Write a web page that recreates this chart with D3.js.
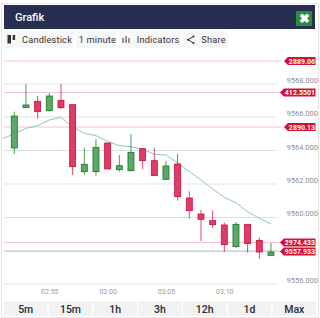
<!DOCTYPE html>
<html>
<head>
<meta charset="utf-8">
<script src="https://cdn.jsdelivr.net/npm/d3@7"></script>
<style>
  html, body { margin: 0; padding: 0; background: #fff; }
  svg { display: block; font-family: Roboto, "Liberation Sans", sans-serif; }
</style>
</head>
<body>
<div id="chart"></div>
<script>
// candle data (minutes after 02:00)
var minutes = [52, 53, 54, 55, 56, 57, 58, 59, 60, 61, 62, 63, 64, 65, 66, 67, 68, 69, 70, 71, 72, 73, 74];
var opens = [9564.16, 9566.58, 9566.96, 9566.40, 9567.02, 9566.76, 9562.74, 9562.74, 9564.46, 9562.86, 9562.80, 9564.12, 9563.40, 9562.28, 9563.20, 9561.16, 9560.20, 9559.80, 9559.54, 9558.24, 9559.58, 9558.62, 9557.72];
var closes = [9566.08, 9566.74, 9566.34, 9567.28, 9566.58, 9563.04, 9563.18, 9564.20, 9562.90, 9563.10, 9563.90, 9563.40, 9562.50, 9563.08, 9561.24, 9560.40, 9559.88, 9559.56, 9558.36, 9559.58, 9558.42, 9557.92, 9557.92];
var highs = [9566.34, 9568.00, 9567.30, 9567.46, 9568.00, 9566.76, 9564.18, 9564.68, 9564.46, 9563.74, 9565.00, 9564.12, 9564.18, 9563.38, 9563.82, 9561.56, 9560.44, 9560.42, 9559.70, 9559.72, 9559.58, 9558.78, 9558.46];
var lows = [9563.80, 9566.58, 9565.92, 9566.34, 9566.50, 9562.54, 9562.54, 9562.50, 9562.90, 9562.74, 9562.76, 9562.90, 9562.50, 9562.28, 9561.00, 9559.92, 9558.58, 9559.38, 9557.92, 9558.18, 9557.88, 9557.52, 9557.70];

// moving average line
var maMinutes = [51, 52, 53, 54, 55, 56, 57, 58, 59, 60, 61, 62, 63, 64, 65, 66, 67, 68, 69, 70, 71, 72, 73, 74];
var maValues = [9564.73, 9565.00, 9565.34, 9565.50, 9565.84, 9566.00, 9565.44, 9565.04, 9564.90, 9564.56, 9564.30, 9564.24, 9564.08, 9563.78, 9563.74, 9563.26, 9562.75, 9562.24, 9561.70, 9561.20, 9560.88, 9560.34, 9559.94, 9559.60];

// horizontal price lines
var priceLevels = [9569.38, 9567.49, 9565.42, 9558.49, 9557.95];
var priceLabels = ["2889.06", "412.5501", "2890.13", "2974.433", "9557.933"];

var yTicks = [9556, 9558, 9560, 9562, 9564, 9566, 9568];
var yLabelTicks = [9556, 9560, 9562, 9564, 9566, 9568]; // 9558 sits behind the price tags
var softTicks = [9556, 9562, 9566, 9568];
var xTicks = [55, 60, 65, 70];
var xTickLabels = ["02:55", "03:00", "03:05", "03:10"];

var toolbarLabels = ["Candlestick", "1 minute", "Indicators", "Share"];
var rangeLabels = ["5m", "15m", "1h", "3h", "12h", "1d", "Max"];

var w = 320, h = 318;
var upColor = "#0d7a23", downColor = "#cc0f3d";

var x = d3.scaleLinear().domain([52, 70]).range([14.3, 224.3]);
var y = d3.scaleLinear().domain([9556, 9568]).range([284, 84]);

var svg = d3.select("#chart").append("svg")
    .attr("width", w)
    .attr("height", h);

// outer panel
svg.append("rect")
    .attr("x", 1.5).attr("y", 3.5)
    .attr("width", 317).attr("height", 314)
    .attr("fill", "#fff")
    .attr("stroke", "#e6e6e6");

// title bar
svg.append("rect")
    .attr("x", 4).attr("y", 5)
    .attr("width", 311).attr("height", 24)
    .attr("fill", "#262e52");
svg.append("text")
    .attr("x", 15).attr("y", 21)
    .attr("fill", "#fff")
    .attr("font-size", 11)
    .attr("font-weight", 500)
    .text("Grafik");
svg.append("rect")
    .attr("x", 296).attr("y", 11)
    .attr("width", 16).attr("height", 15)
    .attr("rx", 1)
    .attr("fill", "#2d8a3e");
svg.append("text")
    .attr("x", 304).attr("y", 22.5)
    .attr("text-anchor", "middle")
    .attr("fill", "#fff")
    .attr("font-size", 13)
    .attr("font-weight", 700)
    .text("\u2716");

// toolbar buttons
var toolbarX = [4, 75.5, 119, 182.5];
var toolbarW = [70, 41.5, 62, 45.5];
var toolbarText = [22, 78.7, 136.7, 201.3];
var toolbar = svg.append("g");
toolbarLabels.forEach(function (d, i) {
    toolbar.append("rect")
        .attr("x", toolbarX[i]).attr("y", 31)
        .attr("width", toolbarW[i]).attr("height", 17)
        .attr("fill", "#f7f7f7");
    toolbar.append("text")
        .attr("x", toolbarText[i]).attr("y", 42.5)
        .attr("fill", "#333")
        .attr("font-size", 9.2)
        .attr("letter-spacing", 0.2)
        .text(d);
});
// small toolbar icons
toolbar.append("rect").attr("x", 7.5).attr("y", 35).attr("width", 3.5).attr("height", 8.5).attr("fill", "#333");
toolbar.append("rect").attr("x", 12.7).attr("y", 35).attr("width", 2.4).attr("height", 5).attr("fill", "#333");
toolbar.append("path").attr("d", "M123 43v-5M126 43v-7M129 43v-5").attr("stroke", "#777").attr("stroke-width", 1.5);
toolbar.append("path").attr("d", "M193.5 36.5L188 39.7L193.5 43").attr("fill", "none").attr("stroke", "#333").attr("stroke-width", 1);
toolbar.selectAll("circle")
    .data([[193.5, 36.5], [188, 39.7], [193.5, 43]])
    .enter()
    .append("circle")
    .attr("cx", function (d) { return d[0]; })
    .attr("cy", function (d) { return d[1]; })
    .attr("r", 1)
    .attr("fill", "#333");

// y grid lines and labels
var yAxis = d3.axisRight(y)
    .tickValues(yLabelTicks)
    .tickSize(0)
    .tickFormat(d3.format(".3f"));
function isSoft(d) { return softTicks.indexOf(d) >= 0; }
svg.append("g")
    .selectAll("line")
    .data(yTicks)
    .enter()
    .append("line")
    .attr("x1", 4).attr("x2", 277)
    .attr("y1", function (d) { return isSoft(d) ? Math.round(y(d)) : Math.floor(y(d)) + 0.5; })
    .attr("y2", function (d) { return isSoft(d) ? Math.round(y(d)) : Math.floor(y(d)) + 0.5; })
    .attr("stroke", function (d) { return isSoft(d) ? "#f0f0f2" : "#dfdfe3"; })
    .attr("stroke-width", function (d) { return isSoft(d) ? 2 : 1; });

var yG = svg.append("g")
    .attr("transform", "translate(281,-4)")
    .call(yAxis);
yG.select(".domain").remove();
yG.selectAll("text")
    .attr("x", 5.5)
    .attr("fill", "#8f8f8f")
    .attr("font-size", 7.5)
    .attr("font-family", "Roboto, sans-serif");

// x axis labels
var xAxis = d3.axisBottom(x)
    .tickValues(xTicks)
    .tickSize(0)
    .tickFormat(function (d, i) { return xTickLabels[i]; });
var xG = svg.append("g")
    .attr("transform", "translate(0,286)")
    .call(xAxis);
xG.select(".domain").remove();
xG.selectAll("text")
    .attr("fill", "#9a9a9a")
    .attr("font-size", 7)
    .attr("font-family", "Roboto, sans-serif");

// price lines
svg.append("g")
    .selectAll("line")
    .data(priceLevels)
    .enter()
    .append("line")
    .attr("x1", 4).attr("x2", 282)
    .attr("y1", function (d) { return y(d); })
    .attr("y2", function (d) { return y(d); })
    .attr("stroke", "#f6c4cf")
    .attr("stroke-width", 1);

// moving average
var maData = maMinutes.map(function (d, i) { return [d, maValues[i]]; });
svg.append("path")
    .datum(maData)
    .attr("fill", "none")
    .attr("stroke", "#8fc4c4")
    .attr("stroke-width", 1)
    .attr("d", d3.line()
        .x(function (d) { return x(d[0]); })
        .y(function (d) { return y(d[1]); }));

// candles
var candles = svg.append("g")
    .selectAll("g")
    .data(minutes)
    .enter()
    .append("g");

candles.append("line")
    .attr("x1", function (d) { return x(d); })
    .attr("x2", function (d) { return x(d); })
    .attr("y1", function (d, i) { return y(highs[i]); })
    .attr("y2", function (d, i) { return y(lows[i]); })
    .attr("stroke", function (d, i) { return closes[i] >= opens[i] ? upColor : downColor; })
    .attr("stroke-opacity", 0.75)
    .attr("stroke-width", 1);

candles.append("rect")
    .attr("x", function (d) { return x(d) - 3; })
    .attr("width", 6)
    .attr("y", function (d, i) { return y(Math.max(opens[i], closes[i])); })
    .attr("height", function (d, i) { return Math.abs(y(opens[i]) - y(closes[i])); })
    .attr("fill", function (d, i) { return closes[i] >= opens[i] ? "#5ea768" : "#dc3d66"; })
    .attr("stroke", function (d, i) { return closes[i] >= opens[i] ? upColor : downColor; })
    .attr("stroke-width", 0.8);

// price tags on the right, tag width follows the label
var tags = svg.append("g")
    .selectAll("g")
    .data(priceLevels)
    .enter()
    .append("g")
    .attr("transform", function (d) { return "translate(0," + y(d) + ")"; });
tags.append("text")
    .attr("x", 315)
    .attr("y", 2.6)
    .attr("text-anchor", "end")
    .attr("fill", "#fff")
    .attr("font-size", 7)
    .attr("font-weight", 700)
    .text(function (d, i) { return priceLabels[i]; });
tags.insert("path", "text")
    .attr("d", function () {
        var left = 315 - this.parentNode.querySelector("text").getComputedTextLength() - 1;
        return "M" + (left - 4) + " 0L" + left + " -4H315.5V4H" + left + "Z";
    })
    .attr("fill", "#cf1237");

// range buttons
var rangeBand = d3.scaleBand()
    .domain(rangeLabels)
    .range([4, 316])
    .paddingInner(0.03);
var ranges = svg.append("g")
    .selectAll("g")
    .data(rangeLabels)
    .enter()
    .append("g")
    .attr("transform", function (d) { return "translate(" + rangeBand(d) + ",301)"; });
ranges.append("rect")
    .attr("width", rangeBand.bandwidth())
    .attr("height", 15)
    .attr("fill", "#f2f2f2");
ranges.append("text")
    .attr("x", rangeBand.bandwidth() / 2)
    .attr("y", 12)
    .attr("text-anchor", "middle")
    .attr("fill", "#2b2b33")
    .attr("font-size", 10.5)
    .attr("font-weight", 500)
    .text(function (d) { return d; });
</script>
</body>
</html>
